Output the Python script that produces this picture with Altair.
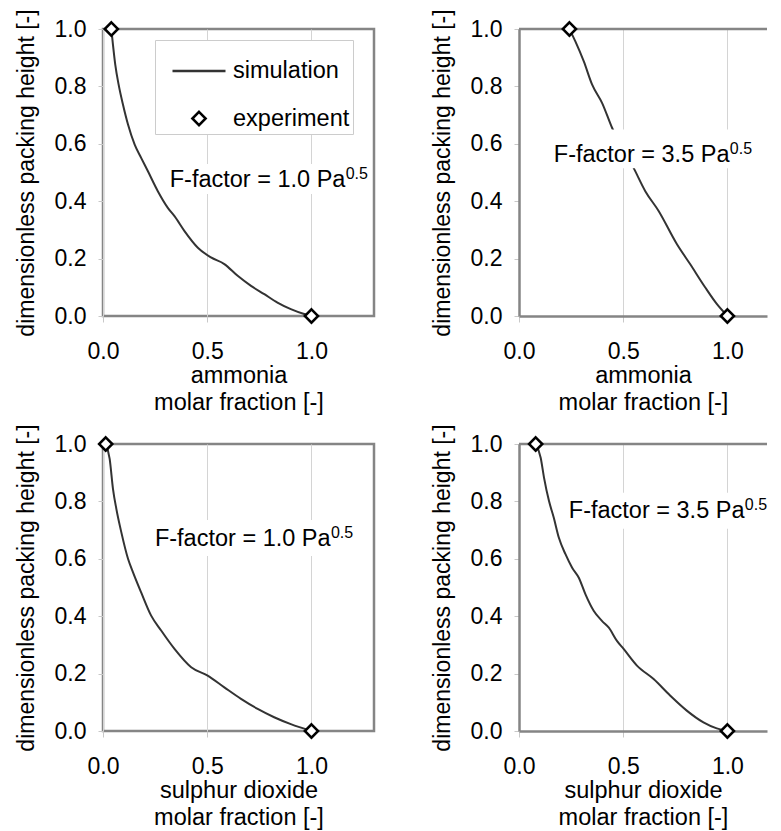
import altair as alt
import pandas as pd

FONT = "Liberation Sans"
SERIES = ["simulation", "experiment"]

# ---- data ----
# panel 1: ammonia, F-factor 1.0
nh3_f10_sim_x = [0.04, 0.048, 0.059, 0.075, 0.096, 0.12, 0.152, 0.183, 0.215, 0.263, 0.311, 0.343,
                 0.391, 0.455, 0.518, 0.582, 0.646, 0.71, 0.774, 0.837, 0.901, 0.965, 1.0]
nh3_f10_sim_y = [1.0, 0.944, 0.875, 0.806, 0.736, 0.667, 0.597, 0.551, 0.505, 0.435, 0.377, 0.348,
                 0.296, 0.238, 0.204, 0.181, 0.14, 0.105, 0.076, 0.047, 0.024, 0.007, 0.0]
nh3_f10_exp_x = [0.04, 1.0]
nh3_f10_exp_y = [1.0, 0.0]

# panel 2: ammonia, F-factor 3.5
nh3_f35_sim_x = [0.242, 0.271, 0.311, 0.351, 0.399, 0.447, 0.55, 0.606, 0.67, 0.758, 0.821, 0.893, 0.949, 1.0]
nh3_f35_sim_y = [1.0, 0.956, 0.887, 0.806, 0.742, 0.655, 0.516, 0.435, 0.366, 0.25, 0.181, 0.1, 0.042, 0.0]
nh3_f35_exp_x = [0.242, 1.0]
nh3_f35_exp_y = [1.0, 0.0]

# panel 3: sulphur dioxide, F-factor 1.0
so2_f10_sim_x = [0.013, 0.032, 0.048, 0.064, 0.088, 0.12, 0.144, 0.183, 0.231, 0.279, 0.343, 0.423,
                 0.502, 0.582, 0.662, 0.742, 0.821, 0.901, 1.0]
so2_f10_sim_y = [1.0, 0.948, 0.843, 0.774, 0.692, 0.6, 0.553, 0.483, 0.402, 0.35, 0.286, 0.222,
                 0.193, 0.152, 0.112, 0.077, 0.048, 0.024, 0.0]
so2_f10_exp_x = [0.013, 1.0]
so2_f10_exp_y = [1.0, 0.0]

# panel 4: sulphur dioxide, F-factor 3.5
so2_f35_sim_x = [0.08, 0.104, 0.12, 0.144, 0.167, 0.191, 0.223, 0.255, 0.287, 0.319, 0.359, 0.399,
                 0.431, 0.47, 0.502, 0.566, 0.646, 0.726, 0.805, 0.885, 0.949, 1.0]
so2_f35_sim_y = [1.0, 0.952, 0.883, 0.801, 0.743, 0.674, 0.616, 0.569, 0.534, 0.476, 0.418, 0.383,
                 0.36, 0.314, 0.286, 0.228, 0.181, 0.123, 0.071, 0.03, 0.009, 0.0]
so2_f35_exp_x = [0.08, 1.0]
so2_f35_exp_y = [1.0, 0.0]

x_ticks = [0.0, 0.5, 1.0]
y_ticks = [0.0, 0.2, 0.4, 0.6, 0.8, 1.0]
species_names = ["ammonia", "sulphur dioxide"]
ff_texts = ["F-factor = 1.0 Pa", "F-factor = 3.5 Pa"]
ff_exponent = "0.5"

# annotation anchor (left, baseline) in data units and white box behind it
ann_x = [0.32, 0.167, 0.249, 0.239]
ann_y = [0.448, 0.538, 0.645, 0.742]
box_x1 = [0.30, 0.145, 0.225, 0.215]
box_x2 = [1.29, 1.15, 1.23, 1.19]
box_y1 = [0.53, 0.65, 0.735, 0.83]
box_y2 = [0.425, 0.515, 0.61, 0.705]

DIAMOND = "M0,-0.25L0.25,0L0,0.25L-0.25,0Z"
PT_SIZE = 2809
FRAME = "#858585"
H = 287
W_LEFT, X_MAX_LEFT = 271, 1.3
W_RIGHT, X_MAX_RIGHT = 248, 1.19


def panel(i, sim_x, sim_y, exp_x, exp_y, species, ff_text, with_legend, right):
    sim = pd.DataFrame({"x": sim_x, "y": sim_y, "series": "simulation"})
    exp = pd.DataFrame({"x": exp_x, "y": exp_y, "series": "experiment"})
    ann = pd.DataFrame({"x": [ann_x[i]], "y": [ann_y[i]], "text": [ff_text], "sup": [ff_exponent]})
    bx = pd.DataFrame({"x": [box_x1[i]], "x2": [box_x2[i]], "y": [box_y1[i]], "y2": [box_y2[i]]})

    xmax = X_MAX_RIGHT if right else X_MAX_LEFT
    xs = alt.Scale(domain=[0, xmax], nice=False, zero=False)
    ys = alt.Scale(domain=[0, 1], nice=False, zero=False)
    dom = dict(domain=True, domainColor=FRAME, domainWidth=2.5) if right else dict(domain=False)
    X = alt.X("x:Q", scale=xs, title=[species, "molar fraction [-]"],
              axis=alt.Axis(values=x_ticks, format=".1f", grid=True, **dom))
    Y = alt.Y("y:Q", scale=ys, title="dimensionless packing height [-]",
              axis=alt.Axis(values=y_ticks, format=".1f", grid=False, **dom))

    if with_legend:
        leg = alt.Legend(title=None, orient="none", legendX=52, legendY=11, symbolSize=PT_SIZE,
                         symbolStrokeWidth=2.5, labelFontSize=23.5, labelFont=FONT, labelColor="black",
                         labelOffset=6, padding=3, rowPadding=7.5, symbolOffset=13,
                         labelExpr="datum.label + '  '", strokeColor="#cccccc",
                         fillColor="white", symbolFillColor="white")
        col = alt.Color("series:N", scale=alt.Scale(domain=SERIES, range=["#333333", "#000000"]), legend=leg)
        shp = alt.Shape("series:N", scale=alt.Scale(domain=SERIES, range=["stroke", DIAMOND]), legend=leg)
        line = alt.Chart(sim).mark_line(strokeWidth=2, interpolate="monotone").encode(x=X, y=Y, color=col)
        pts = alt.Chart(exp).mark_point(filled=False, fill="white", strokeWidth=2.5, size=PT_SIZE,
                                        opacity=1).encode(x=X, y=Y, color=col, shape=shp)
    else:
        line = alt.Chart(sim).mark_line(strokeWidth=2, color="#333333", interpolate="monotone").encode(x=X, y=Y)
        pts = alt.Chart(exp).mark_point(filled=False, fill="white", stroke="black", strokeWidth=2.5,
                                        size=PT_SIZE, shape=DIAMOND, opacity=1).encode(x=X, y=Y)

    box = alt.Chart(bx).mark_rect(fill="white").encode(x=X, x2="x2", y=Y, y2="y2")
    txt = alt.Chart(ann).mark_text(align="left", baseline="alphabetic", font=FONT, fontSize=23.5,
                                   color="black").encode(x=X, y=Y, text="text:N")
    sup = alt.Chart(ann).mark_text(align="left", baseline="alphabetic", font=FONT, fontSize=16,
                                   color="black", dx=176, dy=-8).encode(x=X, y=Y, text="sup:N")
    layers = [line, box, txt, sup]
    if right:
        top = alt.Chart(pd.DataFrame({"y": [1.0]})).mark_rule(color=FRAME, strokeWidth=2.5).encode(y=Y)
        layers.append(top)
    layers.append(pts)
    ch = alt.layer(*layers).properties(width=W_RIGHT if right else W_LEFT, height=H)
    if right:
        ch = ch.properties(view=alt.ViewBackground(stroke="transparent"))
    return ch


p1 = panel(0, nh3_f10_sim_x, nh3_f10_sim_y, nh3_f10_exp_x, nh3_f10_exp_y, species_names[0], ff_texts[0], True, False)
p2 = panel(1, nh3_f35_sim_x, nh3_f35_sim_y, nh3_f35_exp_x, nh3_f35_exp_y, species_names[0], ff_texts[1], False, True)
p3 = panel(2, so2_f10_sim_x, so2_f10_sim_y, so2_f10_exp_x, so2_f10_exp_y, species_names[1], ff_texts[0], False, False)
p4 = panel(3, so2_f35_sim_x, so2_f35_sim_y, so2_f35_exp_x, so2_f35_exp_y, species_names[1], ff_texts[1], False, True)

row1 = alt.hconcat(p1, p2, spacing=53).resolve_scale(color="independent", shape="independent").resolve_legend(
    color="independent", shape="independent")
row2 = alt.hconcat(p3, p4, spacing=53)

chart = alt.vconcat(row1, row2, spacing=7).resolve_scale(color="independent", shape="independent").resolve_legend(
    color="independent", shape="independent").properties(
    padding={"left": 5, "top": -1, "right": 0, "bottom": 0}
).configure_view(
    stroke=FRAME, strokeWidth=2.5
).configure_axis(
    labelFont=FONT, titleFont=FONT, labelFontSize=23, labelColor="black",
    titleColor="black", titleFontWeight="normal", tickColor="#c8c8c8", tickWidth=1,
    gridColor="#d4d4d4", gridWidth=1
).configure_axisX(
    labelPadding=18, tickSize=6, titlePadding=0, titleLineHeight=27, titleFontSize=23.5, labelFlush=False
).configure_axisY(
    labelPadding=12, tickSize=5, titlePadding=16, titleFontSize=23
)

chart.save("out.html", embed_options={"renderer": "svg", "actions": False})
